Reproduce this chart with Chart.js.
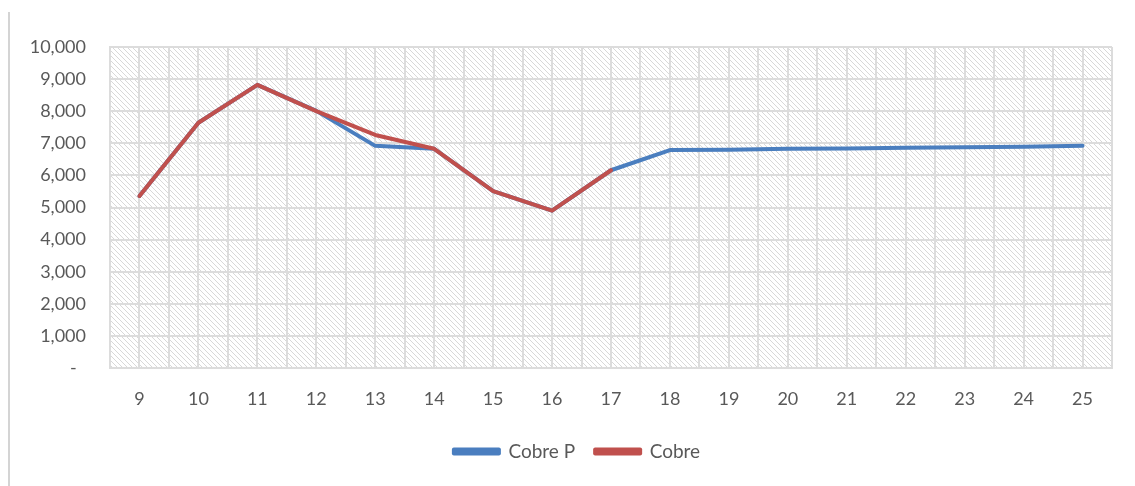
<!DOCTYPE html>
<html>
<head>
<meta charset="utf-8">
<script src="https://cdn.jsdelivr.net/npm/chart.js@4/dist/chart.umd.min.js"></script>
<style>
  html, body { margin: 0; padding: 0; background: #ffffff; }
  #wrap { position: relative; width: 1135px; height: 486px; }
  canvas { display: block; }
</style>
</head>
<body>
<div id="wrap"><canvas id="chart" width="1135" height="486"></canvas></div>
<script>
// Years (x categories)
const categories = [9, 10, 11, 12, 13, 14, 15, 16, 17, 18, 19, 20, 21, 22, 23, 24, 25];

// Projected copper price series
const cobrePValues = [5360, 7640, 8820, 8010, 6920, 6830, 5510, 4900, 6160, 6790, 6800, 6830, 6840, 6860, 6880, 6890, 6920];

// Observed copper price series (years 9 to 17)
const cobreValues = [5360, 7640, 8820, 8000, 7260, 6830, 5510, 4900, 6160];

// Y axis tick values
const yTicks = [0, 1000, 2000, 3000, 4000, 5000, 6000, 7000, 8000, 9000, 10000];

const seriesNames = ['Cobre P', 'Cobre'];
const seriesColors = ['#4A7EBF', '#C0504D'];

const toPoints = (vals) => vals.map((v, i) => ({ x: categories[i], y: v }));

// Diagonal hatch fill for the plot area
function makeHatch(ctx) {
  const size = 5;
  const c = document.createElement('canvas');
  c.width = size; c.height = size;
  const g = c.getContext('2d');
  g.fillStyle = '#ffffff';
  g.fillRect(0, 0, size, size);
  g.strokeStyle = '#d8d8d8';
  g.lineWidth = 1;
  g.beginPath();
  g.moveTo(-1, -1); g.lineTo(size + 1, size + 1);
  g.moveTo(-1, size - 1); g.lineTo(1, size + 1);
  g.moveTo(size - 1, -1); g.lineTo(size + 1, 1);
  g.stroke();
  return ctx.createPattern(c, 'repeat');
}

const plotBackground = {
  id: 'plotBackground',
  afterLayout(chart) {
    // nudge the legend block to the right
    if (chart.legend) {
      chart.legend.left += 21;
      chart.legend.right += 21;
    }
  },
  beforeDraw(chart) {
    const { ctx, chartArea: a } = chart;
    ctx.save();
    ctx.fillStyle = makeHatch(ctx);
    ctx.fillRect(a.left, a.top, a.right - a.left, a.bottom - a.top);
    ctx.restore();
  },
  afterDraw(chart) {
    // thin frame line on the left edge of the figure
    const { ctx } = chart;
    ctx.save();
    ctx.strokeStyle = '#d4d4d4';
    ctx.lineWidth = 2;
    ctx.beginPath();
    ctx.moveTo(9, 12);
    ctx.lineTo(9, 486);
    ctx.stroke();
    ctx.restore();
  }
};

const textColor = '#595959';
const gridColor = '#dcdcdc';
const fontFamily = 'Lato, "Open Sans", sans-serif';

new Chart(document.getElementById('chart'), {
  type: 'line',
  data: {
    datasets: [
      {
        label: seriesNames[0],
        data: toPoints(cobrePValues),
        borderColor: seriesColors[0],
        backgroundColor: seriesColors[0],
        borderWidth: 4,
        pointRadius: 0,
        tension: 0,
        borderJoinStyle: 'round',
        borderCapStyle: 'round',
        order: 2
      },
      {
        label: seriesNames[1],
        data: toPoints(cobreValues),
        borderColor: seriesColors[1],
        backgroundColor: seriesColors[1],
        borderWidth: 4,
        pointRadius: 0,
        tension: 0,
        borderJoinStyle: 'round',
        borderCapStyle: 'round',
        order: 1
      }
    ]
  },
  options: {
    responsive: false,
    animation: false,
    layout: { padding: { top: 47, right: 23, left: 0, bottom: 15 } },
    plugins: {
      tooltip: { enabled: false },
      legend: {
        position: 'bottom',
        labels: {
          sort: (a, b) => a.datasetIndex - b.datasetIndex,
          boxWidth: 45,
          boxHeight: 4,
          color: textColor,
          padding: 20,
          font: { family: fontFamily, size: 19 }
        }
      }
    },
    scales: {
      x: {
        type: 'linear',
        min: categories[0] - 0.5,
        max: categories[categories.length - 1] + 0.5,
        afterFit: (s) => { s.height = 54; },
        grid: { color: gridColor, lineWidth: 2, drawTicks: false },
        border: { color: gridColor, width: 2 },
        ticks: {
          stepSize: 0.5,
          autoSkip: false,
          maxTicksLimit: 100,
          maxRotation: 0,
          padding: 20,
          color: textColor,
          font: { family: fontFamily, size: 18 },
          callback: (v) => Number.isInteger(v) ? String(v) : ''
        }
      },
      y: {
        min: yTicks[0],
        max: yTicks[yTicks.length - 1],
        afterFit: (s) => { s.width = 110; },
        afterBuildTicks: (s) => { s.ticks = yTicks.map(v => ({ value: v })); },
        grid: { color: gridColor, lineWidth: 2, drawTicks: false },
        border: { color: gridColor, width: 2 },
        ticks: {
          padding: 24,
          color: textColor,
          font: { family: fontFamily, size: 18 },
          callback: (v) => v === 0 ? '-  ' : v.toLocaleString('en-US')
        }
      }
    }
  },
  plugins: [plotBackground]
});
</script>
</body>
</html>
